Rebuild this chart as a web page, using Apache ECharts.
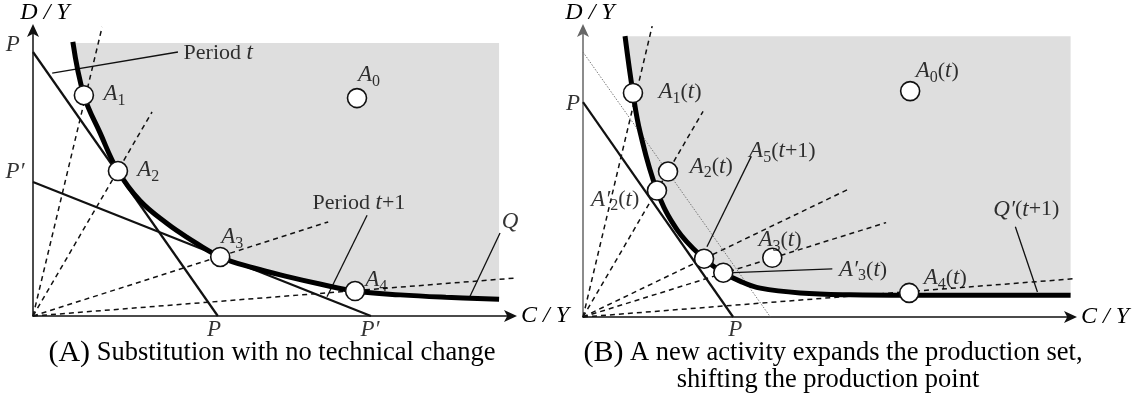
<!DOCTYPE html>
<html><head><meta charset="utf-8">
<script src="https://cdn.jsdelivr.net/npm/echarts@6/dist/echarts.min.js"></script>
<style>html,body{margin:0;padding:0;background:#fff}#c{width:1133px;height:402px}</style>
</head><body><div id="c"></div>
<script>
// ---------- Panel A data (abstract units: C/Y 0..100, D/Y 0..60) ----------
const curveA = [[8.3,57.1],[10.6,46.0],[14.0,38.1],[17.7,30.2],[22.3,24.0],[28,19.2],[32.1,16.4],[39.0,12.3],[46,10.0],[53,8.2],[60,6.6],[67.1,5.2],[76.5,4.4],[86,3.9],[97.1,3.5]];
const fillTopA = 56.9;
const raysA = [[14.4,60.2],[24.8,42.5],[61.5,19.6],[102.9,8.1]];
const priceA = [[[0,55.0],[38.5,0]], [[0,27.9],[70.4,0]]];
const leadersA = [[[4.0,50.6],[30.2,55.0]], [[69.6,21.0],[61.25,4.0]], [[97.3,17.3],[91.0,4.0]]];
const pointsA = [[67.5,45.4],[10.6,46.0],[17.7,30.2],[39.0,12.3],[67.1,5.2]];
const labelTextA = ['{a|P}','{a|P′}','{a|P}','{a|P′}','{r|Period }{a|t}','{r|Period }{a|t}{r|+1}','{a|Q}',
  '{a|A}{s|0}','{a|A}{s|1}','{a|A}{s|2}','{a|A}{s|3}','{a|A}{s|4}'];
const labelPosA = [[-4.2,56.5],[-3.75,30.0],[37.7,-2.9],[70.2,-2.9],[38.6,54.8],[67.9,23.5],[99.4,19.6],
  [70,50.2],[17.0,46.25],[24.0,30.4],[41.5,16.5],[71.5,7.5]];

// ---------- Panel B data ----------
const curveB = [[8.75,58.3],[10.4,46.5],[11.9,38.3],[15.4,26.25],[19.6,18.1],[25.2,12.1],[29.2,9.2],[33,7.3],[36.9,6.0],[45.2,5.0],[55.6,4.6],[67.9,4.5],[101.5,4.5]];
const fillTopB = 58.3;
const raysB = [[14.4,60.4],[25.0,42.7],[55.6,26.7],[63.1,19.6],[104.2,8.1]];
const priceB = [[[0,44.6],[31.25,0]]];
const thinB = [[0,55.0],[39.0,0]];
const leadersB = [[[35,33.3],[25.8,14.6]], [[31.25,9.2],[51.9,10.0]], [[90,18.75],[94.6,5.2]]];
const pointsB = [[68.1,46.9],[10.4,46.5],[17.7,30.2],[15.4,26.25],[25.2,12.1],[29.2,9.2],[39.4,12.3],[67.9,5.0]];
const labelTextB = ['{a|P}','{a|P}','{a|A}{s|0}{r|(}{a|t}{r|)}','{a|A}{s|1}{r|(}{a|t}{r|)}','{a|A}{s|2}{r|(}{a|t}{r|)}',
  '{a|A′}{s|2}{r|(}{a|t}{r|)}','{a|A}{s|5}{r|(}{a|t}{r|+1)}','{a|A′}{s|3}{r|(}{a|t}{r|)}','{a|A}{s|3}{r|(}{a|t}{r|)}',
  '{a|A}{s|4}{r|(}{a|t}{r|)}','{a|Q′}{r|(}{a|t}{r|+1)}'];
const labelPosB = [[-2.1,44.2],[31.7,-2.7],[73.75,51],[20.2,46.7],[26.7,31.25],[6.7,24.4],[41.5,34.4],[58.3,9.8],[41.0,16.0],[75.4,8.1],[92.3,22.3]];

const captionA = '{b|(A)}{n| Substitution with no technical change}';
const captionB1 = '{b|(B)}{n| A new activity expands the production set,}';
const captionB2 = '{n|shifting the production point}';

// ---------- styling helpers ----------
const SERIF = 'Liberation Serif';
const INK = '#000';
const rich = {
  a: {fontFamily: SERIF, fontStyle: 'italic', fontSize: 23, color: INK},
  r: {fontFamily: SERIF, fontSize: 22, color: INK},
  s: {fontFamily: SERIF, fontSize: 16, color: INK, padding: [13,0,0,0]}
};
const capRich = {
  b: {fontFamily: SERIF, fontSize: 30, color: INK},
  n: {fontFamily: SERIF, fontSize: 26.5, color: INK}
};

function axes(i, xmax, ymax, yColor) {
  const common = {
    type: 'value', gridIndex: i, min: 0,
    axisTick: {show: false}, axisLabel: {show: false}, splitLine: {show: false},
    nameTextStyle: {fontFamily: SERIF, fontStyle: 'italic', fontSize: 24, color: INK}
  };
  return {
    x: Object.assign({}, common, {max: xmax, name: 'C / Y', nameLocation: 'end', nameGap: 8,
      axisLine: {show: true, symbol: ['none','arrow'], symbolSize: [9,13], symbolOffset: [0,4], lineStyle: {color: '#111', width: 1.5}}}),
    y: Object.assign({}, common, {max: ymax, name: 'D / Y', nameLocation: 'end', nameGap: 3,
      nameTextStyle: Object.assign({}, common.nameTextStyle, {padding: [0,0,0, i === 0 ? 24 : 14]}),
      axisLine: {show: true, symbol: ['none','arrow'], symbolSize: [9,13], symbolOffset: [0,4], lineStyle: {color: yColor, width: 1.5}}})
  };
}

function seg(i, data, style, z) {
  return {type: 'line', xAxisIndex: i, yAxisIndex: i, data: data, symbol: 'none', clip: false,
    silent: true, lineStyle: style, z: z || 3};
}

function panelSeries(i, curve, fillTop, rays, prices, leaders, points, ltext, lpos, extra) {
  const s = [];
  s.push({type: 'line', xAxisIndex: i, yAxisIndex: i, data: curve, smooth: 0.4, symbol: 'none', clip: false, silent: true,
    lineStyle: {width: 0}, areaStyle: {color: '#dedede', opacity: 1, origin: fillTop}, z: 1});
  rays.forEach(r => s.push(seg(i, [[0,0], r], {color: '#111', width: 1.5, type: [5,4]}, 2)));
  (extra || []).forEach(e => s.push(seg(i, e, {color: '#777', width: 1, type: [1.5,1.5]}, 2)));
  prices.forEach(p => s.push(seg(i, p, {color: '#111', width: 2.2}, 3)));
  leaders.forEach(l => s.push(seg(i, l, {color: '#111', width: 1.3}, 3)));
  s.push({type: 'line', xAxisIndex: i, yAxisIndex: i, data: curve, smooth: 0.4, symbol: 'none', clip: false, silent: true,
    lineStyle: {color: '#000', width: 5, cap: 'butt'}, z: 4});
  s.push({type: 'scatter', xAxisIndex: i, yAxisIndex: i, data: points, symbol: 'circle', symbolSize: 19, clip: false, silent: true,
    itemStyle: {color: '#fff', borderColor: '#111', borderWidth: 1.6, opacity: 1}, z: 5});
  s.push({type: 'scatter', xAxisIndex: i, yAxisIndex: i, clip: false, silent: true, symbolSize: 1,
    itemStyle: {color: 'rgba(0,0,0,0)'}, z: 6,
    data: lpos.map((p, k) => ({value: p, label: {show: true, position: 'inside', color: INK, textBorderWidth: 0,
      formatter: ltext[k], rich: rich}}))});
  return s;
}

const axA = axes(0, 100, 60, '#111');
const axB = axes(1, 102, 60, '#666');

const option = {
  animation: false,
  grid: [
    {left: 33, top: 28, width: 480, height: 288},
    {left: 583, top: 28, width: 490, height: 289}
  ],
  xAxis: [axA.x, axB.x],
  yAxis: [axA.y, axB.y],
  series: [].concat(
    panelSeries(0, curveA, fillTopA, raysA, priceA, leadersA, pointsA, labelTextA, labelPosA),
    panelSeries(1, curveB, fillTopB, raysB, priceB, leadersB, pointsB, labelTextB, labelPosB, [thinB])
  ),
  graphic: [
    {type: 'text', x: 272, y: 353, silent: true, style: {text: captionA, rich: capRich, align: 'center', verticalAlign: 'middle'}},
    {type: 'text', x: 833, y: 353, silent: true, style: {text: captionB1, rich: capRich, align: 'center', verticalAlign: 'middle'}},
    {type: 'text', x: 828, y: 380, silent: true, style: {text: captionB2, rich: capRich, align: 'center', verticalAlign: 'middle'}}
  ]
};

const chart = echarts.init(document.getElementById('c'), null, {renderer: 'canvas'});
chart.setOption(option);
</script>
</body></html>
